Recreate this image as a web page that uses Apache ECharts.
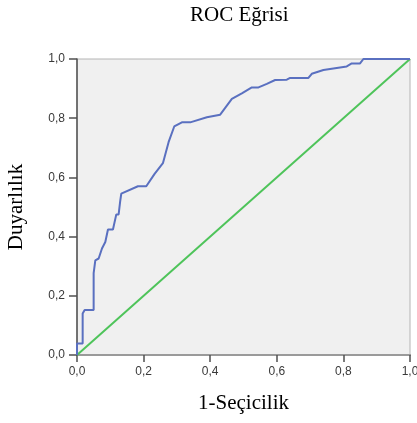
<!DOCTYPE html>
<html>
<head>
<meta charset="utf-8">
<script src="https://cdn.jsdelivr.net/npm/echarts@6/dist/echarts.min.js"></script>
<style>html,body{margin:0;padding:0;background:#fff;}#c{width:417px;height:423px;}</style>
</head>
<body>
<div id="c"></div>
<script>
var fpr = [0,0,0.017,0.017,0.023,0.05,0.05,0.055,0.065,0.075,0.085,0.093,0.108,0.118,0.125,0.13,0.133,0.183,0.208,0.233,0.258,0.275,0.292,0.315,0.34,0.39,0.43,0.445,0.465,0.495,0.525,0.545,0.57,0.595,0.63,0.64,0.695,0.705,0.74,0.81,0.825,0.85,0.86,1.0];
var tpr = [0,0.039,0.039,0.14,0.152,0.152,0.277,0.32,0.326,0.36,0.382,0.424,0.424,0.475,0.475,0.522,0.545,0.57,0.57,0.612,0.648,0.719,0.772,0.786,0.786,0.803,0.812,0.835,0.865,0.884,0.904,0.904,0.916,0.929,0.93,0.936,0.936,0.95,0.963,0.975,0.985,0.985,1.0,1.0];
var refX = [0, 1];
var refY = [0, 1];
var tickLabels = ['0,0','0,2','0,4','0,6','0,8','1,0'];

var rocData = fpr.map(function(x, i){ return [x, tpr[i]]; });
var refData = refX.map(function(x, i){ return [x, refY[i]]; });
function fmt(v){ return tickLabels[Math.round(v / 0.2)]; }

var chart = echarts.init(document.getElementById('c'), null, {renderer: 'canvas'});
chart.setOption({
  animation: false,
  backgroundColor: '#ffffff',
  title: {
    text: 'ROC Eğrisi',
    left: 185, top: 0,
    textStyle: {fontFamily: 'Liberation Serif', fontSize: 21, fontWeight: 'normal', color: '#000'}
  },
  grid: {
    left: 77, top: 59, width: 333, height: 296,
    containLabel: false, outerBoundsMode: 'none',
    show: true, backgroundColor: '#f0f0f0', borderColor: '#b4b4b4', borderWidth: 1
  },
  xAxis: [{
    type: 'value', min: 0, max: 1, interval: 0.2, position: 'bottom',
    name: '1-Seçicilik', nameLocation: 'middle', nameGap: 38,
    nameTextStyle: {fontFamily: 'Liberation Serif', fontSize: 21, color: '#000'},
    axisLine: {show: true, onZero: false, lineStyle: {color: '#505050', width: 1.5}},
    axisTick: {show: true, inside: false, length: 7, lineStyle: {color: '#505050', width: 1.5}},
    axisLabel: {formatter: fmt, fontFamily: 'Liberation Sans', fontSize: 12, color: '#3a3a3a', margin: 11},
    splitLine: {show: false}
  }, {
    type: 'value', min: 0, max: 1, position: 'top',
    axisLine: {show: true, lineStyle: {color: '#9a9a9a', width: 2}},
    axisTick: {show: false}, axisLabel: {show: false}, splitLine: {show: false}
  }],
  yAxis: [{
    type: 'value', min: 0, max: 1, interval: 0.2, position: 'left',
    name: 'Duyarlılık', nameLocation: 'middle', nameGap: 50,
    nameTextStyle: {fontFamily: 'Liberation Serif', fontSize: 21, color: '#000'},
    axisLine: {show: true, onZero: false, lineStyle: {color: '#505050', width: 1.5}},
    axisTick: {show: true, inside: false, length: 8, lineStyle: {color: '#505050', width: 1.5}},
    axisLabel: {formatter: fmt, fontFamily: 'Liberation Sans', fontSize: 12, color: '#3a3a3a', margin: 12},
    splitLine: {show: false}
  }],
  series: [{
    type: 'line', data: refData, symbol: 'none', silent: true,
    lineStyle: {color: '#4ec45a', width: 2}
  }, {
    type: 'line', data: rocData, symbol: 'none', silent: true,
    lineStyle: {color: '#5a70c0', width: 2}
  }]
});
</script>
</body>
</html>
